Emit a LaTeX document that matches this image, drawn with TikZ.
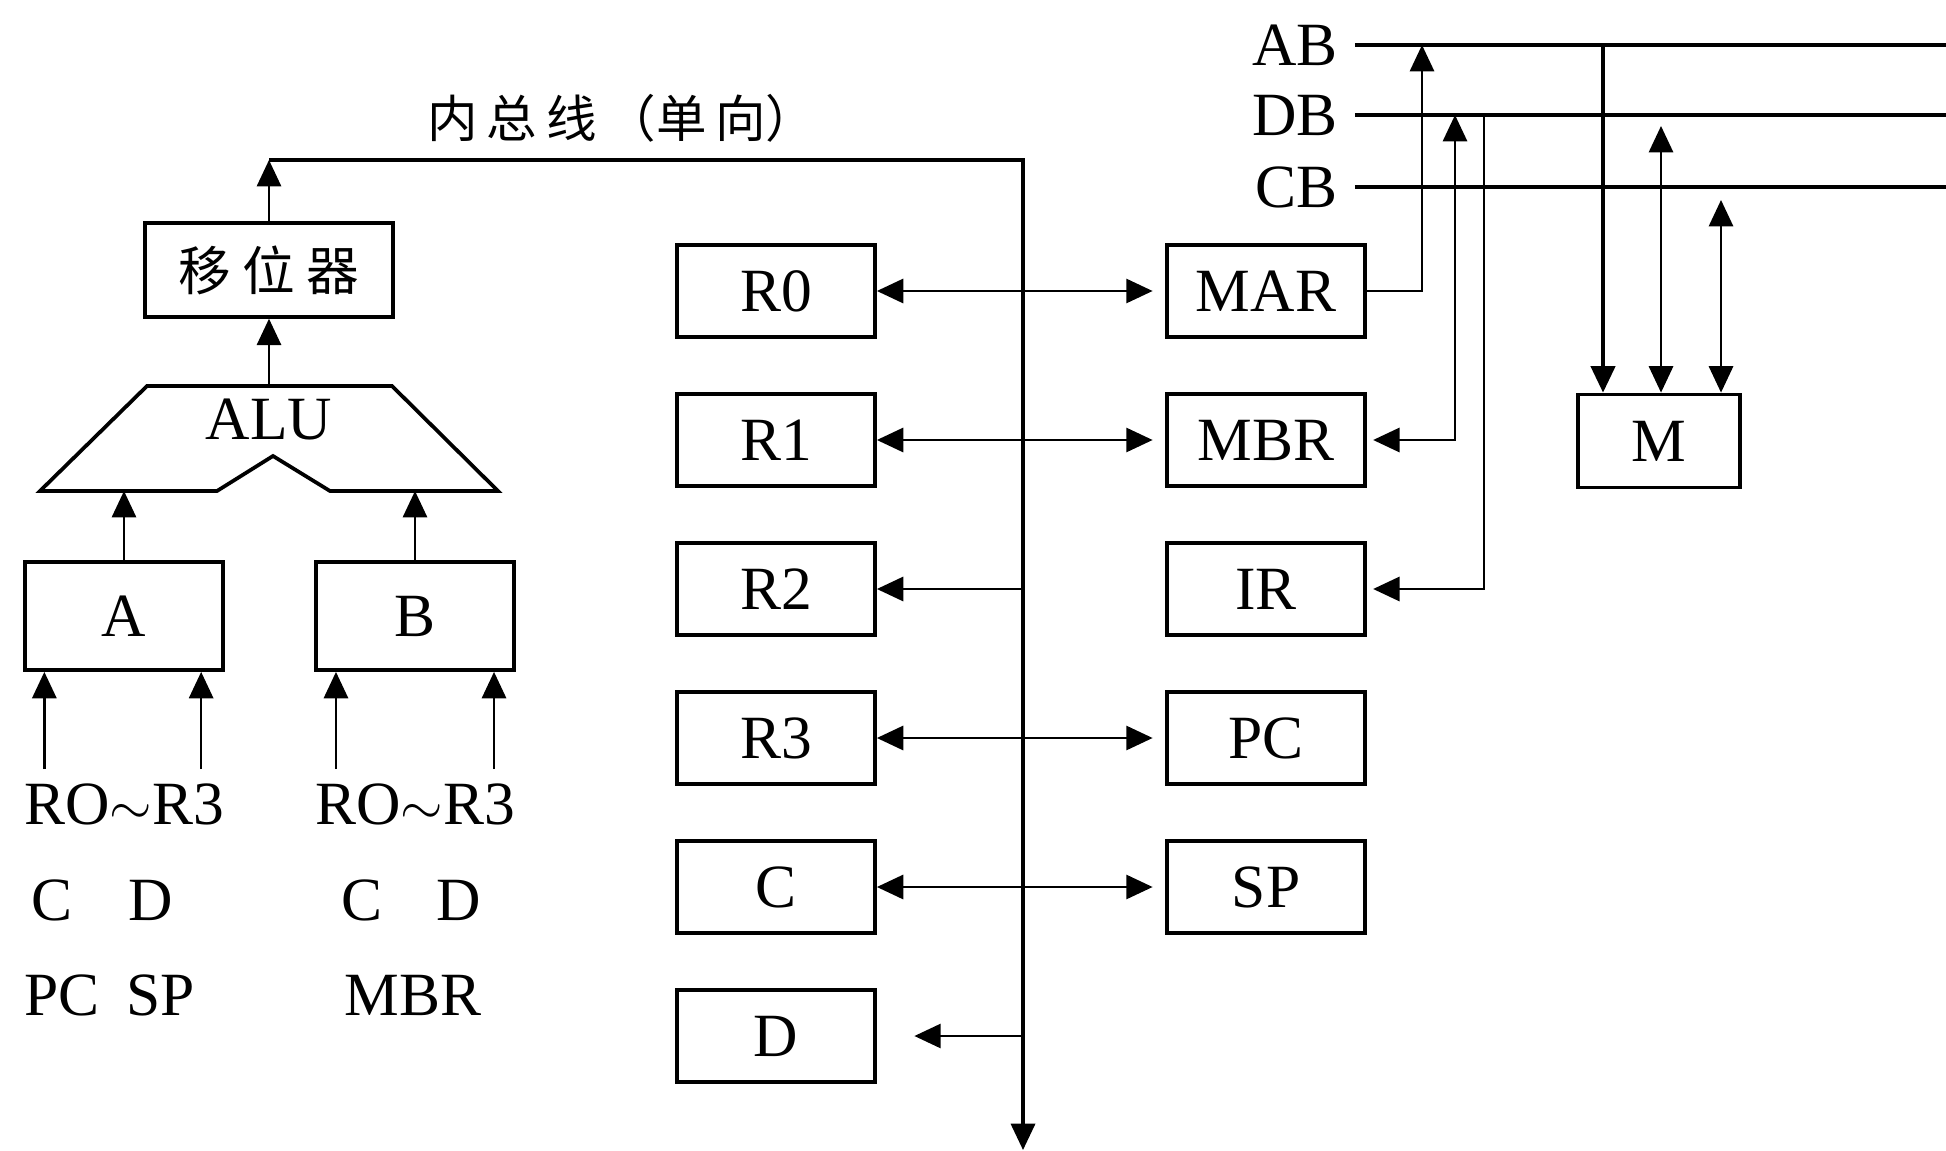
\documentclass[tikz,border=0pt]{standalone}
\usepackage{fontspec}
\setmainfont{Liberation Serif}
\newfontfamily\cjk{Noto Sans CJK SC}
\usepackage{tikz}
\usetikzlibrary{arrows.meta}

\tikzset{
  reg/.style={draw,line width=1.7pt,minimum width=3.17cm,minimum height=1.48cm,inner sep=0pt,font=\fontsize{28}{30}\selectfont},
  txt/.style={inner sep=0pt,font=\fontsize{28}{30}\selectfont},
  wire/.style={line width=1.1pt},
  busw/.style={line width=1.6pt},
  onetip/.style={wire,-{Triangle[length=12pt,width=11pt]}},
  twotip/.style={wire,{Triangle[length=12pt,width=11pt]}-{Triangle[length=12pt,width=11pt]}},
}

\begin{document}
\begin{tikzpicture}[x=0.016cm,y=-0.016cm]
  \useasboundingbox (0,0) rectangle (1946,1151);
  % internal bus label
  \node[inner sep=0pt,font=\cjk\fontsize{23}{25}\selectfont] (title) at (622,118) {内\kern4pt 总\kern4pt 线\kern4pt （单\kern4pt 向）};

  % register columns
  \foreach \n/\y in {R0/291,R1/440,R2/589,R3/738,C/887,D/1036}
    \node[reg] (\n) at (776,\y) {\n};
  \foreach \n/\y in {MAR/291,MBR/440,IR/589,PC/738,SP/887}
    \node[reg] (\n) at (1266,\y) {\n};
  \node[reg,minimum width=2.6cm,minimum height=1.49cm] (M) at (1659,441) {M};

  % shifter, ALU, A and B
  \node[reg,minimum width=3.97cm,minimum height=1.5cm,font=\cjk\fontsize{24}{26}\selectfont] (SH) at (269,270) {移\kern5pt 位\kern5pt 器};
  \draw[line width=1.7pt] (147,386) -- (392,386) -- (498,491) -- (330,491) -- (273,456) -- (217,491) -- (40,491) -- cycle;
  \node[txt] (ALU) at (269,420) {ALU};
  \node[reg,minimum height=1.73cm] (A) at (124,616) {A};
  \node[reg,minimum height=1.73cm] (B) at (415,616) {B};
  \coordinate (alutop) at (269,386);
  \coordinate (alubot) at (0,491);
  \coordinate (infoot) at (0,769);

  % sources of A and B
  \node[txt] (srcA) at (124,804) {RO$\sim$R3};
  \node[txt] (srcB) at (415,804) {RO$\sim$R3};
  \node[txt] (cA) at (52,900) {C};
  \node[txt] (dA) at (151,900) {D};
  \node[txt] (cB) at (362,900) {C};
  \node[txt] (dB) at (459,900) {D};
  \node[txt] (pcA) at (62,995) {PC};
  \node[txt] (spA) at (161,995) {SP};
  \node[txt] (mbrB) at (413,995) {MBR};

  \draw[onetip] (alutop) -- (SH.south);
  \draw[onetip] (A.north) -- (A.north |- alubot);
  \draw[onetip] (B.north) -- (B.north |- alubot);
  \draw[onetip] ([xshift=0.34cm]A.south west |- infoot) -- ([xshift=0.34cm]A.south west);
  \draw[onetip] ([xshift=-0.38cm]A.south east |- infoot) -- ([xshift=-0.38cm]A.south east);
  \draw[onetip] ([xshift=0.35cm]B.south west |- infoot) -- ([xshift=0.35cm]B.south west);
  \draw[onetip] ([xshift=-0.35cm]B.south east |- infoot) -- ([xshift=-0.35cm]B.south east);

  % internal bus
  \coordinate (bl) at (269,160);
  \coordinate (br) at (1023,160);
  \coordinate (bend) at (1023,1150);
  \draw[onetip] (SH.north) -- (bl);
  \draw[onetip,line width=1.4pt] (bl) -- (br) -- (bend);

  \draw[twotip,shorten >=0.2cm] (R0.east) -- (MAR.west);
  \draw[twotip,shorten >=0.2cm] (R1.east) -- (MBR.west);
  \draw[onetip] (R2.east -| br) -- (R2.east);
  \draw[twotip,shorten >=0.2cm] (R3.east) -- (PC.west);
  \draw[twotip,shorten >=0.2cm] (C.east) -- (SP.west);
  \draw[onetip,shorten >=0.6cm] (D.east -| br) -- (D.east);

  % system bus
  \node[txt,anchor=east] (AB) at (1338,45) {AB};
  \node[txt,anchor=east] (DB) at (1338,115) {DB};
  \node[txt,anchor=east] (CB) at (1338,187) {CB};
  \coordinate (edge) at (1946,0);
  \draw[busw] ([xshift=0.27cm]AB.east) -- (AB.east -| edge);
  \draw[busw] ([xshift=0.27cm]DB.east) -- (DB.east -| edge);
  \draw[busw] ([xshift=0.27cm]CB.east) -- (CB.east -| edge);

  \coordinate (ab1) at (1422,45);
  \coordinate (db1) at (1455,115);
  \coordinate (db2) at (1484,115);
  \coordinate (ab2) at (1603,45);
  \coordinate (db3) at (1661,126);
  \coordinate (cb1) at (1721,200);
  \draw[onetip] (MAR.east) -| (ab1);
  \draw[twotip,shorten <=0.1cm] (MBR.east) -| (db1);
  \draw[onetip,shorten >=0.1cm] (db2) |- (IR.east);
  \draw[onetip,line width=1.6pt] (ab2) -- (ab2 |- M.north);
  \draw[twotip] (db3) -- (db3 |- M.north);
  \draw[twotip] (cb1) -- (cb1 |- M.north);
\end{tikzpicture}
\end{document}
